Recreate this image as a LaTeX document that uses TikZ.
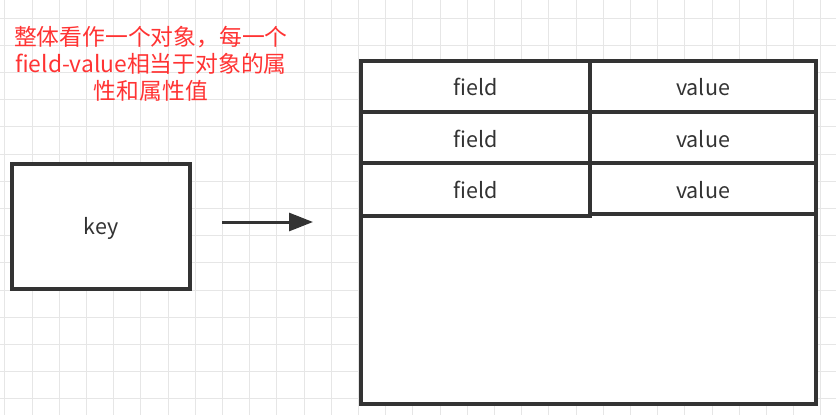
\documentclass[tikz,border=0pt]{standalone}
\usepackage{fontspec}
\setmainfont{Noto Sans CJK SC}
\usetikzlibrary{arrows.meta}
\begin{document}
\begin{tikzpicture}[x=1pt,y=-1pt,
  box/.style={draw=boxc,line width=3.2pt,fill=white},
  lbl/.style={font=\fontsize{21.5}{24}\selectfont,text=txtc,inner sep=0pt},
  note/.style={font=\fontsize{22.8}{27}\selectfont,text=notec,align=center,inner sep=0pt}]
\definecolor{boxc}{HTML}{333333}
\definecolor{txtc}{HTML}{333333}
\definecolor{notec}{HTML}{FF3333}
\definecolor{gridc}{HTML}{E6E6E6}
\useasboundingbox (0,0) rectangle (836,415);
\fill[white] (0,0) rectangle (836,415);
\foreach \i in {0,...,30} {\draw[gridc,line width=0.8pt] (4.8+27.2*\i,0) -- (4.8+27.2*\i,415);}
\foreach \j in {0,...,15} {\draw[gridc,line width=0.8pt] (0,18+27.2*\j) -- (836,18+27.2*\j);}
% key
\draw[box] (12,164) rectangle (190,289);
\node[lbl] (key) at (101,228) {key};
\coordinate (kr) at (222,222);
% table
\draw[box] (361,61) rectangle (816,404);
\draw[box] (361,61) rectangle (590,112);
\draw[box] (590,61) rectangle (816,112);
\draw[box] (361,112) rectangle (590,163);
\draw[box] (590,112) rectangle (816,163);
\draw[box] (361,163) rectangle (590,216);
\draw[box] (590,163) rectangle (816,214);
\node[lbl] (f1) at (476,87) {field};
\node[lbl] (v1) at (703,87) {value};
\node[lbl] (f2) at (476,139) {field};
\node[lbl] (v2) at (703,139) {value};
\node[lbl] (f3) at (476,190) {field};
\node[lbl] (v3) at (703,190) {value};
\coordinate (tl) at (313,222);
\draw[boxc,line width=3pt,-{Triangle[length=24pt,width=18pt]}] (kr) -- (tl);
% note
\node[note] (note) at (151,64) {整体看作一个对象，每一个\\field-value相当于对象的属\\性和属性值};
\end{tikzpicture}
\end{document}
